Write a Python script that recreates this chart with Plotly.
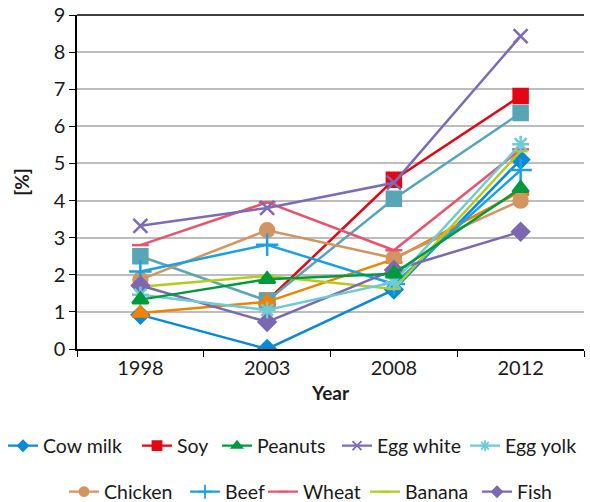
import plotly.graph_objects as go

years = ["1998", "2003", "2008", "2012"]

cow_milk = [0.92, 0.0, 1.6, 5.1]
soy = [None, 1.3, 4.56, 6.82]
peanuts = [1.33, 1.88, 2.03, 4.33]
egg_white = [3.32, 3.8, 4.48, 8.43]
egg_yolk = [1.46, 1.05, 1.8, 5.52]
chicken = [1.87, 3.2, 2.45, 4.0]
beef = [2.09, 2.81, 1.75, 4.82]
wheat = [2.8, 3.95, 2.66, 5.38]
banana = [1.68, 1.97, 1.62, 5.33]
fish = [1.71, 0.73, 2.13, 3.16]
series_11 = [2.5, 1.3, 4.05, 6.36]
series_12 = [0.97, 1.27, 2.42, 4.25]

series = [
    ("Cow milk", cow_milk, "#0A8AD6", "diamond", 13, True),
    ("Soy", soy, "#E30613", "square", 14, True),
    ("Peanuts", peanuts, "#009A3E", "triangle-up", 14, True),
    ("Egg white", egg_white, "#7D6BB7", "x-thin-open", 14, True),
    ("Egg yolk", egg_yolk, "#6CCBD6", "asterisk-open", 14, True),
    ("Chicken", chicken, "#D39560", "circle", 14, True),
    ("Beef", beef, "#1BA1E2", "cross-thin-open", 16, True),
    ("Wheat", wheat, "#E8546E", "line-ew-open", 12, True),
    ("Banana", banana, "#B3CB1A", "line-ew-open", 10, True),
    ("Fish", fish, "#7B68B0", "diamond", 13, True),
    ("Series 11", series_11, "#58A6B5", "square", 14, False),
    ("Series 12", series_12, "#F08200", "triangle-up", 14, False),
]

# legend slot positions (page pixels: left of text, row centre)
legend_slots = [(43, 446), (177, 446), (257, 446), (377, 446), (505, 446),
                (104, 492), (225, 492), (303, 492), (405, 492), (517, 492)]

W, H = 590, 502

# drawing order (later = on top)
order = [1, 0, 10, 11, 5, 6, 7, 8, 9, 4, 2, 3]

fig = go.Figure()
traces = {}
legends = {}
legend_traces = []
for i, (name, vals, color, sym, size, show) in enumerate(series):
    traces[i] = go.Scatter(
        x=years, y=vals, name=name, mode="lines+markers",
        line=dict(color=color, width=2.5),
        marker=dict(symbol=sym, size=size, color=color,
                    line=dict(color=color, width=2.5)),
        showlegend=False,
    )
    if show:
        key = "legend" if i == 0 else f"legend{i + 1}"
        tx, ty = legend_slots[i]
        legends[key] = dict(
            orientation="h", xref="container", yref="container",
            x=(tx - 40) / W, y=1 - ty / H, xanchor="left", yanchor="middle",
            font=dict(size=19.5), itemwidth=30,
            bgcolor="rgba(0,0,0,0)",
        )
        # legend-only entry with smaller symbol, as in the reference
        legend_traces.append(go.Scatter(
            x=[None], y=[None], name=name, mode="lines+markers",
            line=dict(color=color, width=2.2),
            marker=dict(symbol=sym, size=max(7, round(size * 0.62)), color=color,
                        line=dict(color=color, width=1.8)),
            showlegend=True, legend=key, hoverinfo="skip",
        ))
for i in order:
    fig.add_trace(traces[i])
for t in legend_traces:
    fig.add_trace(t)

fig.update_layout(
    width=W, height=H,
    margin=dict(l=77, r=6, t=15, b=153, autoexpand=False),
    paper_bgcolor="white", plot_bgcolor="white",
    font=dict(family="Lato, Open Sans, sans-serif", size=20, color="#1a1a1a"),
    xaxis=dict(
        type="category", range=[-0.5, 3.5], automargin=False,
        showline=True, linecolor="#000", linewidth=1.5,
        ticks="outside", tickson="boundaries", ticklen=6, tickcolor="#000",
        showgrid=False,
        title=dict(text="<b>Year</b>", font=dict(size=19), standoff=9),
    ),
    yaxis=dict(
        range=[0, 9], dtick=1, automargin=False,
        showline=True, linecolor="#000", linewidth=1.5,
        ticks="outside", ticklen=6, tickcolor="#000",
        showgrid=True, gridcolor="#BDBDBD", gridwidth=1.5,
        zeroline=False, ticklabeloverflow="allow",
        title=dict(text="<b>[%]</b>", font=dict(size=19), standoff=19),
    ),
    shapes=[dict(type="line", xref="paper", yref="paper", x0=0, x1=1, y0=1, y1=1,
                 line=dict(color="#000", width=1.5), layer="above")],
    **legends,
)

fig.write_html("out.html", config={"displayModeBar": False},
               post_script="document.body.style.margin='0';")
